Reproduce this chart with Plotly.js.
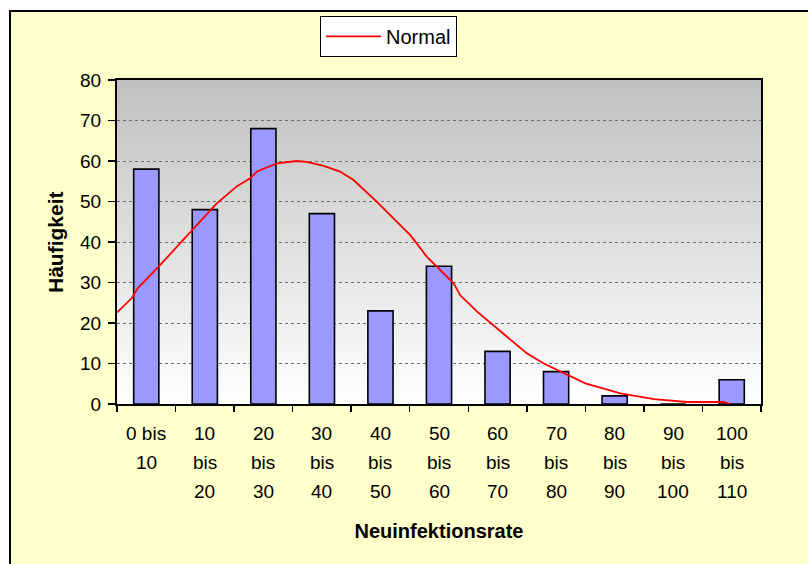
<!DOCTYPE html>
<html>
<head>
<meta charset="utf-8">
<script src="https://cdn.plot.ly/plotly-3.0.1.min.js"></script>
<style>
  html, body { margin: 0; padding: 0; background: #ffffff; width: 808px; height: 564px; overflow: hidden; }
  #frame { position: absolute; left: 9px; top: 10px; width: 797px; height: 552px;
           border-top: 2px solid #000; border-left: 2px solid #000; background: #FFFFCC; }
  #chart { width: 797px; height: 552px; }
</style>
</head>
<body>
<div id="frame"><div id="chart"></div></div>
<script>
// Category labels (bins of the Neuinfektionsrate), one entry per line as wrapped in the chart
var categories = [
  "0 bis 10", "10 bis 20", "20 bis 30", "30 bis 40", "40 bis 50", "50 bis 60",
  "60 bis 70", "70 bis 80", "80 bis 90", "90 bis 100", "100 bis 110"
];
var tickLines = [
  ["0 bis", "10"], ["10", "bis", "20"], ["20", "bis", "30"], ["30", "bis", "40"],
  ["40", "bis", "50"], ["50", "bis", "60"], ["60", "bis", "70"], ["70", "bis", "80"],
  ["80", "bis", "90"], ["90", "bis", "100"], ["100", "bis", "110"]
];
// Häufigkeit per bin
var frequencies = [58, 48, 68, 47, 23, 34, 13, 8, 2, 0, 6];

// Normal curve (rate on a 0..110 scale, density scaled to counts)
var normalX = [0, 2.5, 3.6, 7.1, 10.8, 13.6, 17.0, 20.5, 22.7, 23.9, 27.3, 30.7, 32.4, 35.3, 38.1, 40.4,
               44.4, 50.1, 52.9, 57.5, 58.6, 61.5, 66.0, 70.0, 72.9, 76.3, 80.0, 86.0, 91.7, 97.4, 103.6, 104.8];
var normalY = [22.6, 26.1, 28.7, 33.9, 39.7, 44.2, 49.5, 53.8, 55.7, 57.4, 59.4, 60.0, 59.8, 58.8, 57.4, 55.3,
               49.9, 41.7, 36.4, 29.8, 26.9, 22.8, 17.4, 12.5, 10.0, 7.6, 5.1, 2.6, 1.2, 0.5, 0.5, 0];

var yTicks = [0, 10, 20, 30, 40, 50, 60, 70, 80];
var yTitle = "Häufigkeit";
var xTitle = "Neuinfektionsrate";

var FONT = "Liberation Sans, Arial, Helvetica, sans-serif";
var LINE_STEP = 29;   // px between wrapped label lines
var FIRST_LINE = 29;  // px from axis to first label line

var gradSvg = "<svg xmlns='http://www.w3.org/2000/svg' width='100' height='100' preserveAspectRatio='none'>" +
  "<defs><linearGradient id='g' x1='0' y1='0' x2='0' y2='1'>" +
  "<stop offset='0' stop-color='#C0C0C0'/><stop offset='1' stop-color='#FFFFFF'/>" +
  "</linearGradient></defs><rect width='100' height='100' fill='url(#g)'/></svg>";
var gradUri = "data:image/svg+xml;charset=utf-8," + encodeURIComponent(gradSvg);

var bars = {
  type: "bar",
  x: categories,
  y: frequencies,
  width: 0.43,
  marker: { color: "#9999FF", line: { color: "#000000", width: 1.6 } },
  showlegend: false,
  hoverinfo: "x+y"
};

var normal = {
  type: "scatter",
  mode: "lines",
  name: "Normal",
  x: normalX,
  y: normalY,
  xaxis: "x2",
  line: { color: "#FF0000", width: 1.8 }
};

// wrapped category labels, placed under each category on the x axis
var annotations = [];
categories.forEach(function (cat, i) {
  tickLines[i].forEach(function (txt, j) {
    annotations.push({
      xref: "x", yref: "paper", x: cat, y: 0,
      xanchor: "center", yanchor: "middle",
      yshift: -(FIRST_LINE + LINE_STEP * j),
      text: txt, showarrow: false,
      font: { family: FONT, size: 19, color: "#000000" }
    });
  });
});
// y-axis title
annotations.push({
  xref: "paper", yref: "paper", x: 0, y: 0.5,
  xanchor: "center", yanchor: "middle", xshift: -62,
  textangle: -90, text: yTitle, showarrow: false,
  font: { family: FONT, size: 21, weight: "bold", color: "#000000" }
});

var layout = {
  width: 797,
  height: 552,
  margin: { l: 106, r: 47, t: 68, b: 160, autoexpand: false },
  paper_bgcolor: "#FFFFCC",
  plot_bgcolor: "rgba(0,0,0,0)",
  font: { family: FONT, size: 19, color: "#000000" },
  bargap: 0.57,
  showlegend: true,
  legend: {
    xref: "container", yref: "container",
    x: 0.3877, y: 0.9928, xanchor: "left", yanchor: "top",
    bgcolor: "#FFFFFF", bordercolor: "#000000", borderwidth: 1,
    itemwidth: 55,
    font: { family: FONT, size: 20, color: "#000000" }
  },
  images: [{
    source: gradUri, xref: "paper", yref: "paper",
    x: 0, y: 1, sizex: 1, sizey: 1, sizing: "stretch",
    xanchor: "left", yanchor: "top", layer: "below"
  }],
  annotations: annotations,
  xaxis: {
    type: "category",
    categoryorder: "array",
    categoryarray: categories,
    tickson: "boundaries",
    ticks: "outside",
    ticklen: 6,
    tickwidth: 1.5,
    tickcolor: "#000000",
    showticklabels: false,
    showline: true, mirror: true, linecolor: "#000000", linewidth: 2,
    showgrid: false, zeroline: false,
    title: { text: xTitle, font: { family: FONT, size: 20, weight: "bold" }, standoff: 119 }
  },
  xaxis2: {
    type: "linear", range: [0, 110], overlaying: "x", visible: false, fixedrange: true
  },
  yaxis: {
    range: [0, 80],
    tickvals: yTicks,
    ticks: "outside",
    ticklen: 7,
    tickwidth: 1.5,
    tickcolor: "#000000",
    ticklabelstandoff: 3,
    showline: true, mirror: true, linecolor: "#000000", linewidth: 2,
    showgrid: true, gridcolor: "#6E6E6E", griddash: "dot", gridwidth: 1,
    zeroline: false,
    tickfont: { family: FONT, size: 19 }
  }
};

Plotly.newPlot("chart", [bars, normal], layout, { displayModeBar: false, staticPlot: true });
</script>
</body>
</html>
